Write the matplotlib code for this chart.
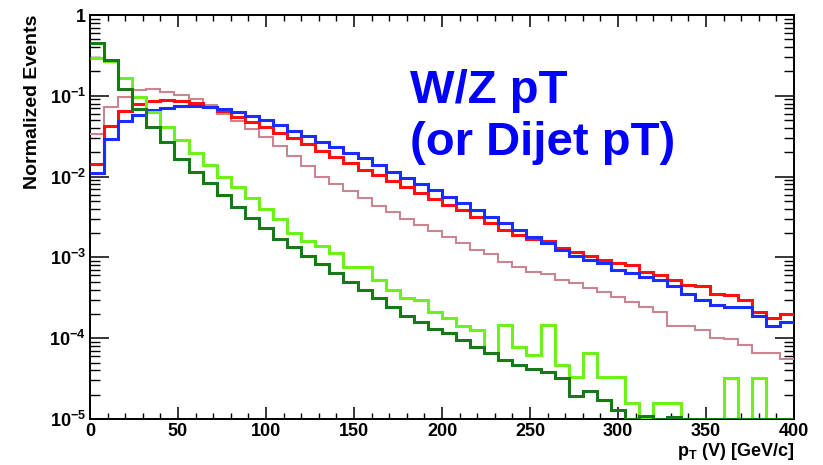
import numpy as np
import matplotlib
matplotlib.use("Agg")
import matplotlib.pyplot as plt
from matplotlib.ticker import FixedLocator, LogLocator, NullFormatter, MultipleLocator

plt.rcParams['font.family'] = 'Liberation Sans'
plt.rcParams['font.weight'] = 'bold'
plt.rcParams['mathtext.fontset'] = 'custom'
plt.rcParams['mathtext.rm'] = 'Liberation Sans:bold'
plt.rcParams['mathtext.bf'] = 'Liberation Sans:bold'
plt.rcParams['mathtext.it'] = 'Liberation Sans:bold'

# 8 GeV bins from 0 to 400
edges = np.arange(0, 401, 8)

pink = [0.034, 0.072, 0.098, 0.118, 0.120, 0.113, 0.103, 0.092, 0.078, 0.060,
        0.049, 0.039, 0.031, 0.024, 0.018, 0.0135, 0.0100, 0.0081, 0.0066, 0.0054,
        0.0043, 0.0036, 0.0030, 0.0025, 0.0021, 0.0018, 0.0015, 0.00125, 0.0011, 0.00088,
        0.00076, 0.00066, 0.00062, 0.00053, 0.00048, 0.00042, 0.00037, 0.00032, 0.00028, 0.00024,
        0.00021, 0.00014, 0.00014, 0.000125, 0.000100, 0.000098, 0.000083, 0.000066, 0.000066, 0.000056]

red = [0.0145, 0.042, 0.065, 0.080, 0.087, 0.088, 0.086, 0.081, 0.073, 0.064,
       0.055, 0.048, 0.041, 0.035, 0.030, 0.025, 0.021, 0.0175, 0.0148, 0.0122,
       0.0105, 0.0088, 0.0074, 0.0062, 0.0053, 0.0045, 0.0039, 0.0032, 0.0027, 0.0022,
       0.0019, 0.0017, 0.0016, 0.00132, 0.00117, 0.00105, 0.00093, 0.00085, 0.00080, 0.00066,
       0.00060, 0.00053, 0.00046, 0.00044, 0.00035, 0.00034, 0.00030, 0.00021, 0.00018, 0.00020]

blue = [0.0112, 0.029, 0.049, 0.058, 0.066, 0.071, 0.074, 0.075, 0.073, 0.069,
        0.063, 0.056, 0.050, 0.043, 0.037, 0.032, 0.027, 0.023, 0.0195, 0.0168,
        0.0140, 0.0114, 0.0095, 0.0080, 0.0068, 0.0056, 0.0047, 0.0039, 0.0032, 0.0027,
        0.0022, 0.0018, 0.0015, 0.00125, 0.00105, 0.00093, 0.00085, 0.00070, 0.00064, 0.00058,
        0.00053, 0.00044, 0.00035, 0.00030, 0.00026, 0.00024, 0.00024, 0.00019, 0.00014, 0.00016]

light_green = [0.29, 0.27, 0.166, 0.096, 0.063, 0.041, 0.028, 0.0196, 0.0139, 0.0100,
               0.0074, 0.0054, 0.0040, 0.0030, 0.0020, 0.0016, 0.0014, 0.00112, 0.00076, 0.00076,
               0.00052, 0.00040, 0.00031, 0.00030, 0.00021, 0.00018, 0.00014, 0.000126, 0.000066, 0.000145,
               0.000078, 0.000062, 0.000145, 0.000047, 0.000033, 0.000066, 0.000033, 0.000033, 0.000016, 0.0000105,
               0.000016, 0.000016, 0, 0, 0, 0.000032, 0, 0.000032, 0, 0]

dark_green = [0.45, 0.28, 0.12, 0.069, 0.041, 0.027, 0.0165, 0.0113, 0.0083, 0.0059,
              0.0042, 0.0031, 0.0023, 0.0017, 0.00134, 0.00104, 0.00082, 0.00064, 0.00050, 0.00039,
              0.00031, 0.00024, 0.00019, 0.00016, 0.00013, 0.000115, 0.000096, 0.000078, 0.000066, 0.000054,
              0.000047, 0.000042, 0.000038, 0.000032, 0.000019, 0.000022, 0.000017, 0.000013, 0.000010, 0.000011,
              0, 0.0000105, 0, 0, 0, 0, 0, 0, 0, 0]

ymin, ymax = 1e-5, 1.0

fig = plt.figure(figsize=(8.23, 4.65), dpi=100)
ax = fig.add_axes([90/823, 1 - 419/465, 704/823, 404/465])
ax.set_yscale('log')

hists = [(pink, '#c98590', 1.5), (red, '#ff1010', 2.2), (blue, '#1a2cff', 2.2),
         (light_green, '#6ef01a', 2.2), (dark_green, '#167a16', 2.2)]
for vals, col, lw in hists:
    v = np.asarray(vals, dtype=float)
    v = np.where(v > 0, v, ymin)  # empty bins sit on the frame
    ax.stairs(v, edges, baseline=None, color=col, lw=lw, zorder=3)

ax.set_xlim(0, 400)
ax.set_ylim(ymin, ymax)

# ROOT-like ticks on all four sides
ax.xaxis.set_major_locator(MultipleLocator(50))
ax.xaxis.set_minor_locator(MultipleLocator(10))
ax.yaxis.set_major_locator(FixedLocator([1e-5, 1e-4, 1e-3, 1e-2, 1e-1, 1]))
ax.yaxis.set_minor_locator(LogLocator(base=10, subs=np.arange(2, 10)))
ax.yaxis.set_minor_formatter(NullFormatter())
ax.set_yticklabels([r'$10^{-5}$', r'$10^{-4}$', r'$10^{-3}$', r'$10^{-2}$', r'$10^{-1}$', '1'])

ax.tick_params(axis='x', which='major', direction='in', length=8.5, width=1.1,
               top=True, labelsize=13, pad=3)
ax.tick_params(axis='x', which='minor', direction='in', length=4.3, width=1.0, top=True)
ax.tick_params(axis='y', which='major', direction='in', length=14, width=1.1,
               right=True, labelsize=13, pad=3)
ax.tick_params(axis='y', which='minor', direction='in', length=7, width=1.0, right=True)
for lab in ax.get_xticklabels() + ax.get_yticklabels():
    lab.set_fontweight('bold')
for sp in ax.spines.values():
    sp.set_linewidth(1.4)

fig.text(33/823, 1 - 15/465, 'Normalized Events', rotation=90, ha='center', va='top',
         fontsize=14, fontweight='bold')
fig.text(794/823, 1 - 456/465, r'p$_{T}$ (V) [GeV/c]', ha='right', va='baseline',
         fontsize=13, fontweight='bold')

ax.text(0.455, 0.782, 'W/Z pT', transform=ax.transAxes, ha='left', va='baseline',
        fontsize=34, fontweight='bold', color='#0000ff')
ax.text(0.455, 0.653, '(or Dijet pT)', transform=ax.transAxes, ha='left', va='baseline',
        fontsize=34, fontweight='bold', color='#0000ff')

fig.savefig('out.png', dpi=100, facecolor='white')
